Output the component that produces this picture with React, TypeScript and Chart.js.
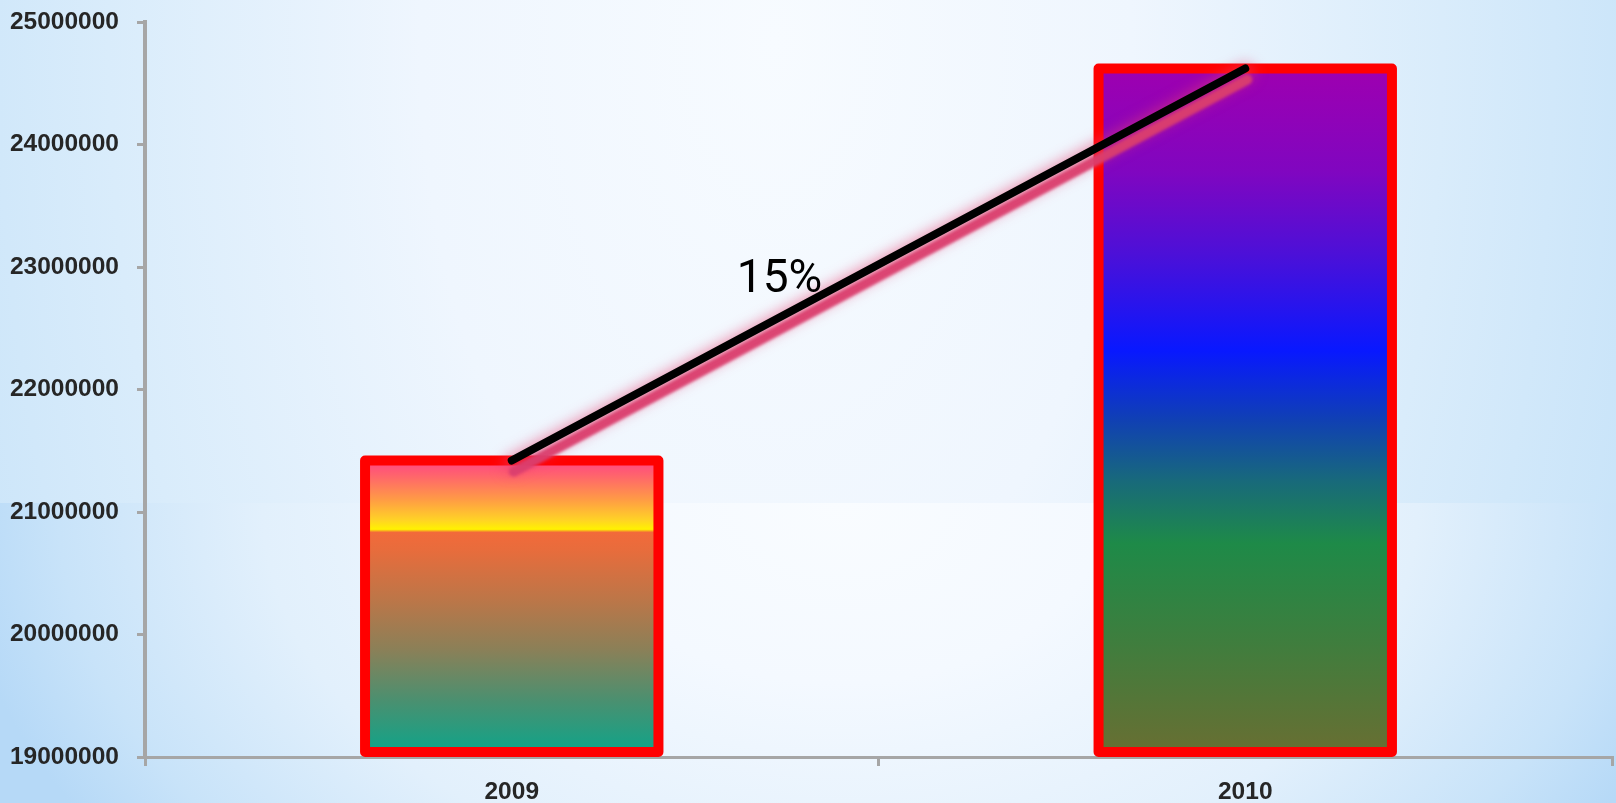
import React, { useEffect, useRef } from "react";
import { Chart, registerables } from "chart.js";

Chart.register(...registerables);

// Yearly totals
const years: string[] = ["2009", "2010"];
const totals: number[] = [21420000, 24620000];

// Value axis range
const axisMin = 19000000;
const axisMax = 25000000;
const axisStep = 1000000;

// Where the growth label sits (category index, axis value)
const growthLabelAt = { index: 0.365, value: 22800000 };

// Vertical colour stops for each bar (offset 0 = top of bar, 1 = base)
const barStops: [number, string][][] = [
  [
    [0, "#ff4484"],
    [0.06, "#ff6a68"],
    [0.13, "#ff9a46"],
    [0.2, "#ffd226"],
    [0.232, "#fff200"],
    [0.242, "#f26a3a"],
    [0.3, "#e86c3c"],
    [0.47, "#bc7648"],
    [0.64, "#8a8058"],
    [0.81, "#4a9070"],
    [1, "#0aa68c"],
  ],
  [
    [0, "#9e00b0"],
    [0.15, "#8006c0"],
    [0.27, "#4c10d8"],
    [0.41, "#0818ff"],
    [0.51, "#1040b4"],
    [0.6, "#186a7a"],
    [0.69, "#1e8a48"],
    [0.83, "#3e7e3e"],
    [1, "#6a6e32"],
  ],
];

const BORDER_RED = "#ff0000";
const BORDER_W = 10;
const AXIS_GREY = "#a6a6a6";
const TICK_FONT = { family: "'Liberation Sans', Arial, sans-serif", size: 24.5, weight: "bold" as const };

// Red frame drawn centred on each bar's outline, after the fill
const barFramePlugin = {
  id: "barFrame",
  afterDatasetDraw(chart: any, args: any) {
    if (args.index !== 0) return;
    const ctx = chart.ctx;
    const meta = chart.getDatasetMeta(0);
    const basePx = chart.scales.y.getPixelForValue(axisMin);
    ctx.save();
    ctx.strokeStyle = BORDER_RED;
    ctx.lineWidth = BORDER_W;
    ctx.lineJoin = "round";
    meta.data.forEach((bar: any) => {
      const { x, y, width } = bar.getProps(["x", "y", "width"], true);
      ctx.strokeRect(x - width / 2, y, width, basePx - BORDER_W / 2 - y);
    });
    ctx.restore();
  },
};

// Soft pink glow and a pink shadow band beneath the trend line
function strokeTrend(ctx: any, pts: any[], dx: number, dy: number) {
  ctx.beginPath();
  pts.forEach((p: any, i: number) =>
    i ? ctx.lineTo(p.x + dx, p.y + dy) : ctx.moveTo(p.x + dx, p.y + dy)
  );
  ctx.stroke();
}

const lineShadowPlugin = {
  id: "lineShadow",
  beforeDatasetDraw(chart: any, args: any) {
    if (args.index !== 1) return;
    const ctx = chart.ctx;
    const pts = chart.getDatasetMeta(1).data;
    ctx.save();
    ctx.lineCap = "round";
    ctx.filter = "blur(7px)";
    ctx.strokeStyle = "rgba(232, 60, 110, 0.55)";
    ctx.lineWidth = 18;
    strokeTrend(ctx, pts, 0, 4);
    ctx.filter = "blur(1.5px)";
    ctx.strokeStyle = "rgba(218, 62, 110, 0.95)";
    ctx.lineWidth = 10;
    strokeTrend(ctx, pts, 2, 11);
    ctx.restore();
  },
};

// Growth percentage between the two years
const growthLabelPlugin = {
  id: "growthLabel",
  afterDatasetsDraw(chart: any) {
    const ctx = chart.ctx;
    const x = chart.scales.x.getPixelForValue(growthLabelAt.index);
    const y = chart.scales.y.getPixelForValue(growthLabelAt.value);
    const pct = Math.round((totals[1] / totals[0] - 1) * 100);
    ctx.save();
    ctx.fillStyle = "#000000";
    ctx.font = "46px Roboto, 'Noto Sans', sans-serif";
    ctx.textAlign = "center";
    ctx.textBaseline = "alphabetic";
    ctx.fillText(`${pct}%`, x, y);
    ctx.restore();
  },
};

function barGradient(context: any) {
  const chart = context.chart;
  const i = context.dataIndex;
  if (!chart.chartArea || i === undefined) return "#888";
  const yScale = chart.scales.y;
  const top = yScale.getPixelForValue(totals[i]);
  const bottom = yScale.getPixelForValue(axisMin);
  const g = chart.ctx.createLinearGradient(0, top, 0, bottom);
  barStops[i].forEach(([o, c]) => g.addColorStop(o, c));
  return g;
}

export default function App() {
  const canvasRef = useRef<HTMLCanvasElement | null>(null);

  useEffect(() => {
    const canvas = canvasRef.current;
    if (!canvas) return;
    const chart = new Chart(canvas, {
      type: "bar",
      data: {
        labels: years,
        datasets: [
          {
            type: "bar",
            data: totals,
            base: axisMin,
            backgroundColor: barGradient,
            borderWidth: 0,
            barPercentage: 0.4,
            categoryPercentage: 1,
            order: 2,
          } as any,
          {
            type: "line",
            data: totals,
            borderColor: "#000000",
            borderWidth: 8,
            borderCapStyle: "round",
            pointRadius: 0,
            fill: false,
            tension: 0,
            order: 1,
            clip: false,
          } as any,
        ],
      },
      options: {
        responsive: false,
        animation: false,
        devicePixelRatio: 1,
        layout: { padding: { top: 22, right: 4, left: 0, bottom: 0 } },
        plugins: {
          legend: { display: false },
          tooltip: { enabled: false },
          title: { display: false },
        },
        scales: {
          x: {
            z: 1,
            offset: true,
            grid: {
              offset: true,
              drawOnChartArea: false,
              drawTicks: true,
              tickLength: 9,
              color: AXIS_GREY,
              lineWidth: 3,
            },
            border: { display: true, color: AXIS_GREY, width: 3 },
            ticks: { color: "#262626", font: TICK_FONT, padding: 12 },
            afterFit: (s: any) => {
              s.height = 46;
            },
          },
          y: {
            z: 1,
            min: axisMin,
            max: axisMax,
            grid: {
              drawOnChartArea: false,
              drawTicks: true,
              tickLength: 8,
              color: AXIS_GREY,
              lineWidth: 3,
            },
            border: { display: true, color: AXIS_GREY, width: 4 },
            ticks: {
              stepSize: axisStep,
              color: "#262626",
              font: TICK_FONT,
              padding: 18,
              callback: (v: any) => String(v),
            },
            afterFit: (s: any) => {
              s.width = 145;
              s.paddingTop = 12;
              s.paddingBottom = 12;
            },
          },
        },
      },
      plugins: [barFramePlugin, lineShadowPlugin, growthLabelPlugin],
    });
    return () => chart.destroy();
  }, []);

  return (
    <div
      style={{
        position: "fixed",
        left: 0,
        top: 0,
        width: 1616,
        height: 803,
        overflow: "hidden",
        backgroundColor: "#eef6fd",
        backgroundImage:
          "radial-gradient(ellipse 55% 300% at 48% 8%, #f7fbff 0%, #eff6fe 40%, #d9ecfb 75%, #c9e4f9 100%), " +
          "radial-gradient(ellipse 55% 200% at 52% 0%, #f9fcff 0%, #f4f9ff 30%, #e2f0fc 65%, #c8e3f9 88%, #b6d9f7 100%)",
        backgroundSize: "100% 503px, 100% 300px",
        backgroundPosition: "left top, left bottom",
        backgroundRepeat: "no-repeat, no-repeat",
      }}
    >
      <canvas ref={canvasRef} width={1616} height={803} style={{ display: "block" }} />
    </div>
  );
}
